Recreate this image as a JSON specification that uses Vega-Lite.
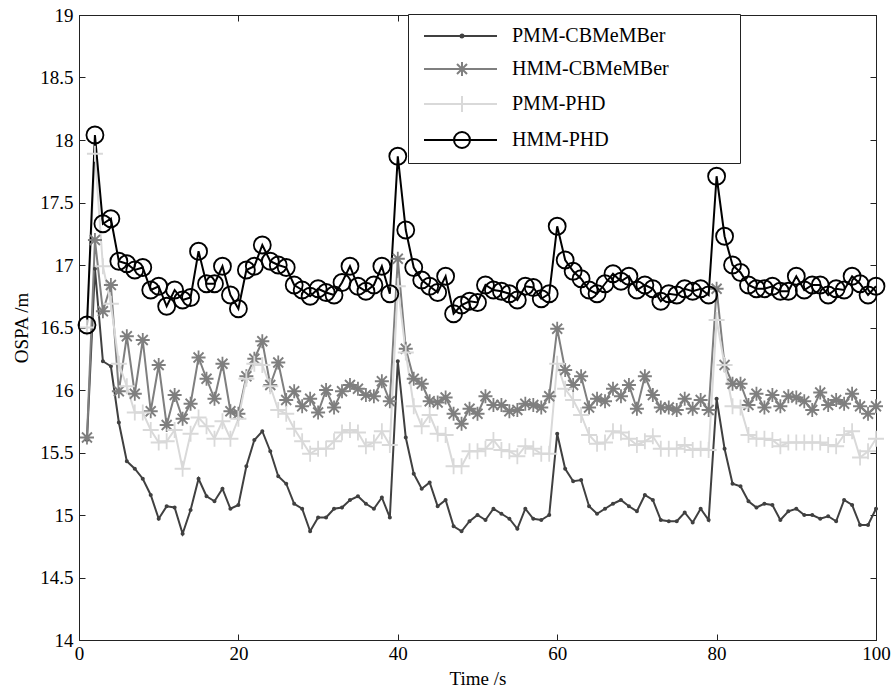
{
"$schema":"https://vega.github.io/schema/vega-lite/v6.json",
"width":797,"height":625,
"autosize":{"type":"none"},
"padding":{"left":79,"top":15,"right":15,"bottom":50},
"background":"white",
"config":{"view":{"stroke":"#222","strokeWidth":1},"font":"Liberation Serif"},
"data":{"values":[
{"t":1,"PMM-CBMeMBer":15.6,"HMM-CBMeMBer":15.62,"PMM-PHD":16.5,"HMM-PHD":16.52},
{"t":2,"PMM-CBMeMBer":16.97,"HMM-CBMeMBer":17.2,"PMM-PHD":17.89,"HMM-PHD":18.04},
{"t":3,"PMM-CBMeMBer":16.23,"HMM-CBMeMBer":16.63,"PMM-PHD":16.99,"HMM-PHD":17.33},
{"t":4,"PMM-CBMeMBer":16.19,"HMM-CBMeMBer":16.84,"PMM-PHD":16.69,"HMM-PHD":17.37},
{"t":5,"PMM-CBMeMBer":15.74,"HMM-CBMeMBer":15.99,"PMM-PHD":16.21,"HMM-PHD":17.03},
{"t":6,"PMM-CBMeMBer":15.43,"HMM-CBMeMBer":16.43,"PMM-PHD":16.03,"HMM-PHD":17.01},
{"t":7,"PMM-CBMeMBer":15.37,"HMM-CBMeMBer":15.97,"PMM-PHD":15.82,"HMM-PHD":16.96},
{"t":8,"PMM-CBMeMBer":15.29,"HMM-CBMeMBer":16.4,"PMM-PHD":15.82,"HMM-PHD":16.98},
{"t":9,"PMM-CBMeMBer":15.16,"HMM-CBMeMBer":15.83,"PMM-PHD":15.68,"HMM-PHD":16.8},
{"t":10,"PMM-CBMeMBer":14.97,"HMM-CBMeMBer":16.2,"PMM-PHD":15.58,"HMM-PHD":16.83},
{"t":11,"PMM-CBMeMBer":15.07,"HMM-CBMeMBer":15.72,"PMM-PHD":15.59,"HMM-PHD":16.67},
{"t":12,"PMM-CBMeMBer":15.06,"HMM-CBMeMBer":15.96,"PMM-PHD":15.68,"HMM-PHD":16.8},
{"t":13,"PMM-CBMeMBer":14.85,"HMM-CBMeMBer":15.77,"PMM-PHD":15.37,"HMM-PHD":16.72},
{"t":14,"PMM-CBMeMBer":15.04,"HMM-CBMeMBer":15.89,"PMM-PHD":15.65,"HMM-PHD":16.74},
{"t":15,"PMM-CBMeMBer":15.29,"HMM-CBMeMBer":16.26,"PMM-PHD":15.78,"HMM-PHD":17.11},
{"t":16,"PMM-CBMeMBer":15.15,"HMM-CBMeMBer":16.09,"PMM-PHD":15.71,"HMM-PHD":16.85},
{"t":17,"PMM-CBMeMBer":15.11,"HMM-CBMeMBer":15.93,"PMM-PHD":15.61,"HMM-PHD":16.85},
{"t":18,"PMM-CBMeMBer":15.21,"HMM-CBMeMBer":16.21,"PMM-PHD":15.75,"HMM-PHD":16.99},
{"t":19,"PMM-CBMeMBer":15.05,"HMM-CBMeMBer":15.83,"PMM-PHD":15.61,"HMM-PHD":16.76},
{"t":20,"PMM-CBMeMBer":15.08,"HMM-CBMeMBer":15.81,"PMM-PHD":15.77,"HMM-PHD":16.65},
{"t":21,"PMM-CBMeMBer":15.39,"HMM-CBMeMBer":16.11,"PMM-PHD":16.09,"HMM-PHD":16.96},
{"t":22,"PMM-CBMeMBer":15.6,"HMM-CBMeMBer":16.25,"PMM-PHD":16.21,"HMM-PHD":16.99},
{"t":23,"PMM-CBMeMBer":15.67,"HMM-CBMeMBer":16.39,"PMM-PHD":16.2,"HMM-PHD":17.16},
{"t":24,"PMM-CBMeMBer":15.51,"HMM-CBMeMBer":16.04,"PMM-PHD":16.03,"HMM-PHD":17.03},
{"t":25,"PMM-CBMeMBer":15.31,"HMM-CBMeMBer":16.22,"PMM-PHD":15.84,"HMM-PHD":17.0},
{"t":26,"PMM-CBMeMBer":15.25,"HMM-CBMeMBer":15.92,"PMM-PHD":15.81,"HMM-PHD":16.98},
{"t":27,"PMM-CBMeMBer":15.09,"HMM-CBMeMBer":15.99,"PMM-PHD":15.69,"HMM-PHD":16.84},
{"t":28,"PMM-CBMeMBer":15.05,"HMM-CBMeMBer":15.87,"PMM-PHD":15.59,"HMM-PHD":16.8},
{"t":29,"PMM-CBMeMBer":14.87,"HMM-CBMeMBer":15.93,"PMM-PHD":15.49,"HMM-PHD":16.75},
{"t":30,"PMM-CBMeMBer":14.98,"HMM-CBMeMBer":15.82,"PMM-PHD":15.53,"HMM-PHD":16.81},
{"t":31,"PMM-CBMeMBer":14.98,"HMM-CBMeMBer":16.0,"PMM-PHD":15.53,"HMM-PHD":16.78},
{"t":32,"PMM-CBMeMBer":15.05,"HMM-CBMeMBer":15.86,"PMM-PHD":15.59,"HMM-PHD":16.76},
{"t":33,"PMM-CBMeMBer":15.06,"HMM-CBMeMBer":15.99,"PMM-PHD":15.66,"HMM-PHD":16.86},
{"t":34,"PMM-CBMeMBer":15.12,"HMM-CBMeMBer":16.04,"PMM-PHD":15.68,"HMM-PHD":16.99},
{"t":35,"PMM-CBMeMBer":15.15,"HMM-CBMeMBer":16.01,"PMM-PHD":15.66,"HMM-PHD":16.83},
{"t":36,"PMM-CBMeMBer":15.09,"HMM-CBMeMBer":15.96,"PMM-PHD":15.55,"HMM-PHD":16.79},
{"t":37,"PMM-CBMeMBer":15.05,"HMM-CBMeMBer":15.95,"PMM-PHD":15.58,"HMM-PHD":16.84},
{"t":38,"PMM-CBMeMBer":15.14,"HMM-CBMeMBer":16.07,"PMM-PHD":15.67,"HMM-PHD":16.99},
{"t":39,"PMM-CBMeMBer":14.98,"HMM-CBMeMBer":15.91,"PMM-PHD":15.56,"HMM-PHD":16.77},
{"t":40,"PMM-CBMeMBer":16.23,"HMM-CBMeMBer":17.05,"PMM-PHD":16.83,"HMM-PHD":17.87},
{"t":41,"PMM-CBMeMBer":15.62,"HMM-CBMeMBer":16.33,"PMM-PHD":16.3,"HMM-PHD":17.28},
{"t":42,"PMM-CBMeMBer":15.33,"HMM-CBMeMBer":16.09,"PMM-PHD":15.87,"HMM-PHD":16.98},
{"t":43,"PMM-CBMeMBer":15.21,"HMM-CBMeMBer":16.05,"PMM-PHD":15.71,"HMM-PHD":16.88},
{"t":44,"PMM-CBMeMBer":15.26,"HMM-CBMeMBer":15.91,"PMM-PHD":15.8,"HMM-PHD":16.83},
{"t":45,"PMM-CBMeMBer":15.07,"HMM-CBMeMBer":15.9,"PMM-PHD":15.65,"HMM-PHD":16.78},
{"t":46,"PMM-CBMeMBer":15.12,"HMM-CBMeMBer":15.94,"PMM-PHD":15.64,"HMM-PHD":16.91},
{"t":47,"PMM-CBMeMBer":14.91,"HMM-CBMeMBer":15.81,"PMM-PHD":15.39,"HMM-PHD":16.61},
{"t":48,"PMM-CBMeMBer":14.87,"HMM-CBMeMBer":15.73,"PMM-PHD":15.39,"HMM-PHD":16.68},
{"t":49,"PMM-CBMeMBer":14.95,"HMM-CBMeMBer":15.85,"PMM-PHD":15.51,"HMM-PHD":16.71},
{"t":50,"PMM-CBMeMBer":15.0,"HMM-CBMeMBer":15.81,"PMM-PHD":15.51,"HMM-PHD":16.7},
{"t":51,"PMM-CBMeMBer":14.96,"HMM-CBMeMBer":15.95,"PMM-PHD":15.53,"HMM-PHD":16.84},
{"t":52,"PMM-CBMeMBer":15.05,"HMM-CBMeMBer":15.88,"PMM-PHD":15.6,"HMM-PHD":16.8},
{"t":53,"PMM-CBMeMBer":15.01,"HMM-CBMeMBer":15.88,"PMM-PHD":15.52,"HMM-PHD":16.79},
{"t":54,"PMM-CBMeMBer":14.97,"HMM-CBMeMBer":15.83,"PMM-PHD":15.51,"HMM-PHD":16.77},
{"t":55,"PMM-CBMeMBer":14.89,"HMM-CBMeMBer":15.84,"PMM-PHD":15.47,"HMM-PHD":16.72},
{"t":56,"PMM-CBMeMBer":15.05,"HMM-CBMeMBer":15.89,"PMM-PHD":15.55,"HMM-PHD":16.83},
{"t":57,"PMM-CBMeMBer":14.97,"HMM-CBMeMBer":15.88,"PMM-PHD":15.53,"HMM-PHD":16.82},
{"t":58,"PMM-CBMeMBer":14.96,"HMM-CBMeMBer":15.86,"PMM-PHD":15.49,"HMM-PHD":16.73},
{"t":59,"PMM-CBMeMBer":15.0,"HMM-CBMeMBer":15.95,"PMM-PHD":15.49,"HMM-PHD":16.77},
{"t":60,"PMM-CBMeMBer":15.65,"HMM-CBMeMBer":16.49,"PMM-PHD":16.21,"HMM-PHD":17.31},
{"t":61,"PMM-CBMeMBer":15.37,"HMM-CBMeMBer":16.16,"PMM-PHD":16.01,"HMM-PHD":17.04},
{"t":62,"PMM-CBMeMBer":15.27,"HMM-CBMeMBer":16.04,"PMM-PHD":15.92,"HMM-PHD":16.95},
{"t":63,"PMM-CBMeMBer":15.28,"HMM-CBMeMBer":16.11,"PMM-PHD":15.8,"HMM-PHD":16.89},
{"t":64,"PMM-CBMeMBer":15.07,"HMM-CBMeMBer":15.86,"PMM-PHD":15.64,"HMM-PHD":16.8},
{"t":65,"PMM-CBMeMBer":15.01,"HMM-CBMeMBer":15.93,"PMM-PHD":15.57,"HMM-PHD":16.77},
{"t":66,"PMM-CBMeMBer":15.05,"HMM-CBMeMBer":15.91,"PMM-PHD":15.58,"HMM-PHD":16.85},
{"t":67,"PMM-CBMeMBer":15.09,"HMM-CBMeMBer":16.01,"PMM-PHD":15.67,"HMM-PHD":16.93},
{"t":68,"PMM-CBMeMBer":15.12,"HMM-CBMeMBer":15.95,"PMM-PHD":15.66,"HMM-PHD":16.87},
{"t":69,"PMM-CBMeMBer":15.07,"HMM-CBMeMBer":16.04,"PMM-PHD":15.61,"HMM-PHD":16.91},
{"t":70,"PMM-CBMeMBer":15.03,"HMM-CBMeMBer":15.85,"PMM-PHD":15.56,"HMM-PHD":16.8},
{"t":71,"PMM-CBMeMBer":15.16,"HMM-CBMeMBer":16.11,"PMM-PHD":15.59,"HMM-PHD":16.84},
{"t":72,"PMM-CBMeMBer":15.12,"HMM-CBMeMBer":15.96,"PMM-PHD":15.63,"HMM-PHD":16.81},
{"t":73,"PMM-CBMeMBer":14.96,"HMM-CBMeMBer":15.86,"PMM-PHD":15.53,"HMM-PHD":16.71},
{"t":74,"PMM-CBMeMBer":14.95,"HMM-CBMeMBer":15.86,"PMM-PHD":15.53,"HMM-PHD":16.77},
{"t":75,"PMM-CBMeMBer":14.95,"HMM-CBMeMBer":15.84,"PMM-PHD":15.53,"HMM-PHD":16.76},
{"t":76,"PMM-CBMeMBer":15.02,"HMM-CBMeMBer":15.93,"PMM-PHD":15.56,"HMM-PHD":16.81},
{"t":77,"PMM-CBMeMBer":14.94,"HMM-CBMeMBer":15.85,"PMM-PHD":15.52,"HMM-PHD":16.79},
{"t":78,"PMM-CBMeMBer":15.05,"HMM-CBMeMBer":15.92,"PMM-PHD":15.53,"HMM-PHD":16.81},
{"t":79,"PMM-CBMeMBer":14.96,"HMM-CBMeMBer":15.84,"PMM-PHD":15.52,"HMM-PHD":16.76},
{"t":80,"PMM-CBMeMBer":15.93,"HMM-CBMeMBer":16.81,"PMM-PHD":16.56,"HMM-PHD":17.71},
{"t":81,"PMM-CBMeMBer":15.53,"HMM-CBMeMBer":16.2,"PMM-PHD":16.2,"HMM-PHD":17.23},
{"t":82,"PMM-CBMeMBer":15.25,"HMM-CBMeMBer":16.05,"PMM-PHD":15.87,"HMM-PHD":17.0},
{"t":83,"PMM-CBMeMBer":15.23,"HMM-CBMeMBer":16.05,"PMM-PHD":15.86,"HMM-PHD":16.94},
{"t":84,"PMM-CBMeMBer":15.11,"HMM-CBMeMBer":15.88,"PMM-PHD":15.64,"HMM-PHD":16.84},
{"t":85,"PMM-CBMeMBer":15.06,"HMM-CBMeMBer":15.97,"PMM-PHD":15.61,"HMM-PHD":16.81},
{"t":86,"PMM-CBMeMBer":15.09,"HMM-CBMeMBer":15.86,"PMM-PHD":15.61,"HMM-PHD":16.81},
{"t":87,"PMM-CBMeMBer":15.08,"HMM-CBMeMBer":15.96,"PMM-PHD":15.6,"HMM-PHD":16.83},
{"t":88,"PMM-CBMeMBer":14.96,"HMM-CBMeMBer":15.87,"PMM-PHD":15.55,"HMM-PHD":16.79},
{"t":89,"PMM-CBMeMBer":15.03,"HMM-CBMeMBer":15.95,"PMM-PHD":15.58,"HMM-PHD":16.79},
{"t":90,"PMM-CBMeMBer":15.05,"HMM-CBMeMBer":15.94,"PMM-PHD":15.58,"HMM-PHD":16.91},
{"t":91,"PMM-CBMeMBer":15.0,"HMM-CBMeMBer":15.91,"PMM-PHD":15.58,"HMM-PHD":16.8},
{"t":92,"PMM-CBMeMBer":15.0,"HMM-CBMeMBer":15.84,"PMM-PHD":15.58,"HMM-PHD":16.84},
{"t":93,"PMM-CBMeMBer":14.97,"HMM-CBMeMBer":15.98,"PMM-PHD":15.58,"HMM-PHD":16.84},
{"t":94,"PMM-CBMeMBer":14.99,"HMM-CBMeMBer":15.88,"PMM-PHD":15.56,"HMM-PHD":16.76},
{"t":95,"PMM-CBMeMBer":14.95,"HMM-CBMeMBer":15.92,"PMM-PHD":15.55,"HMM-PHD":16.81},
{"t":96,"PMM-CBMeMBer":15.12,"HMM-CBMeMBer":15.89,"PMM-PHD":15.64,"HMM-PHD":16.8},
{"t":97,"PMM-CBMeMBer":15.08,"HMM-CBMeMBer":15.97,"PMM-PHD":15.67,"HMM-PHD":16.91},
{"t":98,"PMM-CBMeMBer":14.92,"HMM-CBMeMBer":15.87,"PMM-PHD":15.46,"HMM-PHD":16.85},
{"t":99,"PMM-CBMeMBer":14.92,"HMM-CBMeMBer":15.81,"PMM-PHD":15.51,"HMM-PHD":16.76},
{"t":100,"PMM-CBMeMBer":15.05,"HMM-CBMeMBer":15.87,"PMM-PHD":15.61,"HMM-PHD":16.83}
]},
"transform":[{"fold":["PMM-CBMeMBer","HMM-CBMeMBer","PMM-PHD","HMM-PHD"],"as":["series","ospa"]}],
"layer":[
{"mark":{"type":"line","strokeWidth":2},
 "encoding":{
  "x":{"field":"t","type":"quantitative","scale":{"domain":[0,100],"nice":false,"zero":false},
   "axis":{"orient":"bottom","values":[0,20,40,60,80,100],"format":"d","grid":false,"tickSize":-6,"labelPadding":10,"labelFlush":false,"labelFont":"Liberation Serif","labelFontSize":19,"labelColor":"black","domainColor":"#222","tickColor":"#222","title":"Time /s","titleFont":"Liberation Serif","titleFontSize":19,"titleFontWeight":"normal","titleColor":"black","titlePadding":6}},
  "y":{"field":"ospa","type":"quantitative","scale":{"domain":[14,19],"nice":false,"zero":false},
   "axis":{"orient":"left","values":[14,14.5,15,15.5,16,16.5,17,17.5,18,18.5,19],"format":"~g","grid":false,"tickSize":-6,"labelPadding":12,"labelFlush":false,"labelFont":"Liberation Serif","labelFontSize":19,"labelColor":"black","domainColor":"#222","tickColor":"#222","title":"OSPA /m","titleFont":"Liberation Serif","titleFontSize":19,"titleFontWeight":"normal","titleColor":"black","titlePadding":8}},
  "color":{"field":"series","type":"nominal",
   "scale":{"domain":["PMM-CBMeMBer","HMM-CBMeMBer","PMM-PHD","HMM-PHD"],"range":["#404040","#7f7f7f","#d9d9d9","#000000"]},
   "legend":{"orient":"none","legendX":329,"legendY":-1,"title":null,"strokeColor":"#222","fillColor":"white","padding":11,
    "symbolSize":400,"symbolStrokeWidth":2,"symbolOpacity":1,"labelFont":"Liberation Serif","labelFontSize":20,"labelColor":"black","labelOffset":71,"rowPadding":12,"labelLimit":600,
    "labelExpr":"datum.label + '\u2800\u2800\u2800\u2800'"}}
 }},
{"transform":[{"filter":"datum.series === 'PMM-CBMeMBer'"}],
 "mark":{"type":"point","filled":true,"color":"#404040","size":400,"opacity":1,"shape":"M0.2,0A0.2,0.2 0 1 1 -0.2,0A0.2,0.2 0 1 1 0.2,0Z"},
 "encoding":{
  "x":{"field":"t","type":"quantitative","scale":{"domain":[0,100],"nice":false,"zero":false},
   "axis":{"orient":"top","values":[0,20,40,60,80,100],"labels":false,"grid":false,"tickSize":-6,"domainColor":"#222","tickColor":"#222","title":null}},
  "y":{"field":"ospa","type":"quantitative","scale":{"domain":[14,19],"nice":false,"zero":false},
   "axis":{"orient":"right","values":[14,14.5,15,15.5,16,16.5,17,17.5,18,18.5,19],"labels":false,"grid":false,"tickSize":-6,"domainColor":"#222","tickColor":"#222","title":null}}
 }},
{"transform":[{"filter":"datum.series === 'HMM-CBMeMBer'"}],
 "mark":{"type":"point","filled":false,"color":"#7f7f7f","strokeWidth":1.8,"size":400,"opacity":1,"shape":"M-0.7,0L0.7,0M0,-0.7L0,0.7M-0.5,-0.5L0.5,0.5M-0.5,0.5L0.5,-0.5"},
 "encoding":{
  "x":{"field":"t","type":"quantitative","scale":{"domain":[0,100],"nice":false,"zero":false},"axis":null},
  "y":{"field":"ospa","type":"quantitative","scale":{"domain":[14,19],"nice":false,"zero":false},"axis":null}
 }},
{"transform":[{"filter":"datum.series === 'PMM-PHD'"}],
 "mark":{"type":"point","filled":false,"color":"#d9d9d9","strokeWidth":1.8,"size":400,"opacity":1,"shape":"M-0.8,0L0.8,0M0,-0.8L0,0.8"},
 "encoding":{
  "x":{"field":"t","type":"quantitative","scale":{"domain":[0,100],"nice":false,"zero":false},"axis":null},
  "y":{"field":"ospa","type":"quantitative","scale":{"domain":[14,19],"nice":false,"zero":false},"axis":null}
 }},
{"transform":[{"filter":"datum.series === 'HMM-PHD'"}],
 "mark":{"type":"point","filled":false,"color":"#000000","strokeWidth":1.8,"size":400,"opacity":1,"shape":"M0.85,0A0.85,0.85 0 1 1 -0.85,0A0.85,0.85 0 1 1 0.85,0Z"},
 "encoding":{
  "x":{"field":"t","type":"quantitative","scale":{"domain":[0,100],"nice":false,"zero":false},"axis":null},
  "y":{"field":"ospa","type":"quantitative","scale":{"domain":[14,19],"nice":false,"zero":false},"axis":null}
 }},
{"transform":[{"filter":"datum.t < 0"}],
 "mark":{"type":"point","filled":false,"strokeWidth":2,"size":400,"opacity":1},
 "encoding":{
  "x":{"field":"t","type":"quantitative","scale":{"domain":[0,100],"nice":false,"zero":false},"axis":null},
  "y":{"field":"ospa","type":"quantitative","scale":{"domain":[14,19],"nice":false,"zero":false},"axis":null},
  "color":{"field":"series","type":"nominal"},
  "shape":{"field":"series","type":"nominal",
   "scale":{"domain":["PMM-CBMeMBer","HMM-CBMeMBer","PMM-PHD","HMM-PHD"],
    "range":["M-0.6,0L6.7,0M3.35,0A0.15,0.15 0 1 1 3.05,0A0.15,0.15 0 1 1 3.35,0","M-0.6,0L6.7,0M2.5,0L3.9,0M3.2,-0.7L3.2,0.7M2.7,-0.5L3.7,0.5M2.7,0.5L3.7,-0.5","M-0.6,0L6.7,0M3.2,-0.8L3.2,0.8","M-0.6,0L6.7,0M4.0,0A0.8,0.8 0 1 1 2.4,0A0.8,0.8 0 1 1 4.0,0"]},
   "legend":null}
 }}
],
"resolve":{"scale":{"x":"independent","y":"independent"}}
}
